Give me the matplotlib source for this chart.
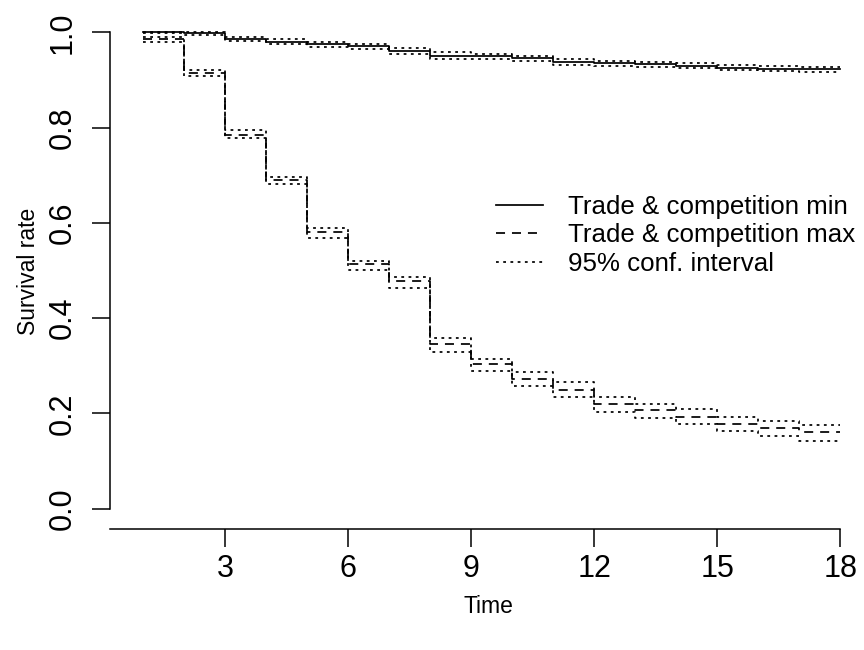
import matplotlib
matplotlib.use("Agg")
import matplotlib.pyplot as plt

plt.rcParams['font.family'] = ['Liberation Sans', 'DejaVu Sans']
plt.rcParams['lines.scale_dashes'] = False

# --- Data ---
time = [1, 2, 3, 4, 5, 6, 7, 8, 9, 10, 11, 12, 13, 14, 15, 16, 17, 18]

# Trade & competition min
surv_min = [1.000, 0.998, 0.986, 0.980, 0.975, 0.971, 0.960, 0.951, 0.950,
            0.946, 0.938, 0.935, 0.933, 0.930, 0.926, 0.924, 0.922, 0.922]
upper_min = [1.000, 1.000, 0.991, 0.985, 0.980, 0.976, 0.967, 0.958, 0.955,
             0.951, 0.945, 0.940, 0.938, 0.935, 0.931, 0.929, 0.927, 0.927]
lower_min = [0.998, 0.995, 0.982, 0.976, 0.970, 0.966, 0.954, 0.945, 0.944,
             0.940, 0.932, 0.930, 0.928, 0.925, 0.921, 0.919, 0.917, 0.917]

# Trade & competition max
surv_max = [0.985, 0.915, 0.785, 0.689, 0.580, 0.514, 0.477, 0.345, 0.303,
            0.273, 0.249, 0.219, 0.207, 0.193, 0.177, 0.169, 0.160, 0.160]
upper_max = [0.990, 0.920, 0.794, 0.697, 0.589, 0.520, 0.486, 0.358, 0.314,
             0.286, 0.265, 0.235, 0.219, 0.210, 0.193, 0.185, 0.176, 0.176]
lower_max = [0.980, 0.908, 0.778, 0.682, 0.568, 0.501, 0.463, 0.329, 0.289,
             0.258, 0.235, 0.202, 0.190, 0.177, 0.164, 0.153, 0.143, 0.143]

xticks = [3, 6, 9, 12, 15, 18]
yticks = [0.0, 0.2, 0.4, 0.6, 0.8, 1.0]

# --- Plot ---
W, H = 864, 650
fig = plt.figure(figsize=(W / 100, H / 100), dpi=100)
left, right, top, bottom = 110, 866, 13.5, 529
ax = fig.add_axes([left / W, 1 - bottom / H, (right - left) / W, (bottom - top) / H])

lw = 1.25
dash = (0, (6.5, 5.0))
dot = (0, (2.0, 3.2))

ax.step(time, surv_min, where='post', color='k', lw=lw, ls='-',
        label='Trade & competition min')
ax.step(time, surv_max, where='post', color='k', lw=lw, ls=dash,
        label='Trade & competition max')
ax.step(time, upper_min, where='post', color='k', lw=lw, ls=dot,
        label='95% conf. interval')
ax.step(time, lower_min, where='post', color='k', lw=lw, ls=dot)
ax.step(time, upper_max, where='post', color='k', lw=lw, ls=dot)
ax.step(time, lower_max, where='post', color='k', lw=lw, ls=dot)

ax.set_xlim(0.195, 18.63)
ax.set_ylim(-0.0426, 1.0395)

for s in ['top', 'right']:
    ax.spines[s].set_visible(False)
ax.spines['left'].set_bounds(0, 1)
ax.spines['bottom'].set_bounds(0.195, 18)
ax.spines['left'].set_linewidth(1.1)
ax.spines['bottom'].set_linewidth(1.1)

ax.set_xticks(xticks)
ax.set_xticklabels([str(v) for v in xticks])
ax.set_yticks(yticks)
ax.set_yticklabels(['%.1f' % v for v in yticks], rotation=90, va='center')
ax.tick_params(length=13, width=1.1, labelsize=22)
ax.tick_params(axis='x', pad=5)
ax.tick_params(axis='y', pad=10)

ax.set_xlabel('Time', fontsize=16.5, labelpad=8)
ax.set_ylabel('Survival rate', fontsize=16.5, labelpad=6)

ax.legend(loc='upper left', bbox_to_anchor=(496 / W, 1 - 195 / H),
          bbox_transform=fig.transFigure, frameon=False, fontsize=18.6,
          handlelength=1.82, handletextpad=0.95, labelspacing=0.17,
          borderpad=0, borderaxespad=0)

plt.savefig('out.png', dpi=100)
